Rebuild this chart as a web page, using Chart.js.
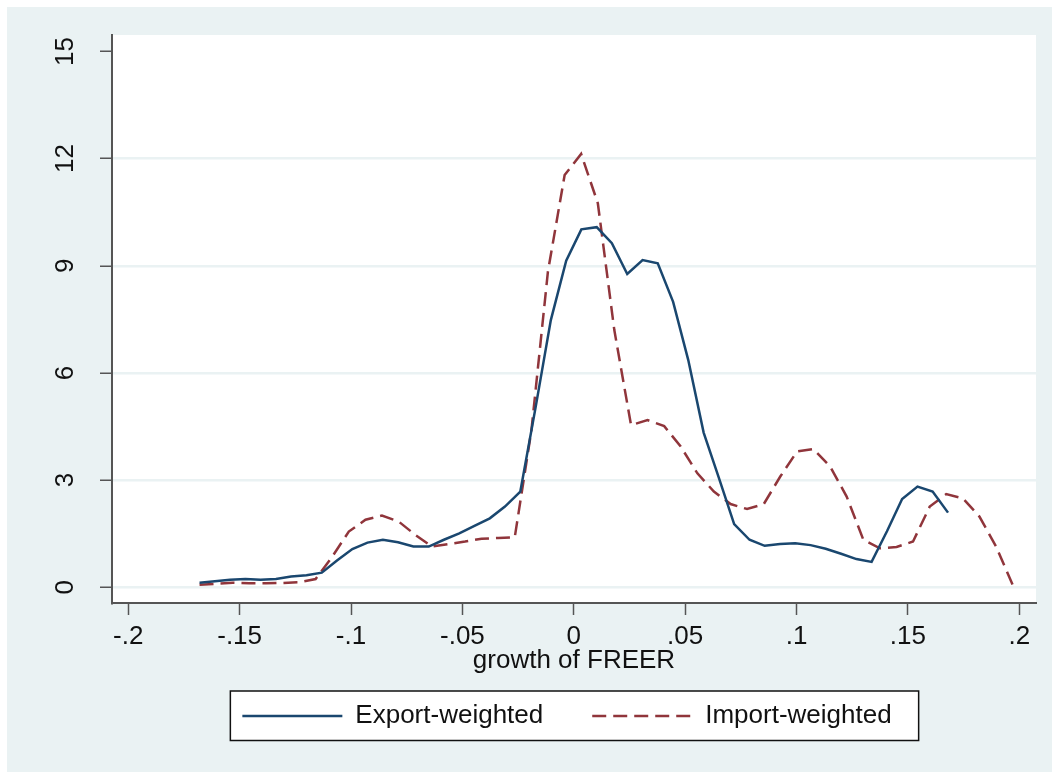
<!DOCTYPE html>
<html>
<head>
<meta charset="utf-8">
<script src="https://cdn.jsdelivr.net/npm/chart.js@4.4.1/dist/chart.umd.min.js"></script>
<style>
    html, body { margin: 0; padding: 0; background: #fff; }
    #marco { position: absolute; left: 7px; top: 7px; width: 1045px; height: 765px; background: #eaf2f3; }
</style>
</head>
<body>
<div id="marco"><canvas id="chartDensidad" width="1045" height="765"></canvas></div>
<script>
// kernel density of FREER growth
const xExport = [-0.1680, -0.1611, -0.1543, -0.1474, -0.1406, -0.1337, -0.1269, -0.1200, -0.1131, -0.1063,
    -0.0994, -0.0926, -0.0857, -0.0789, -0.0720, -0.0651, -0.0583, -0.0514, -0.0446, -0.0377,
    -0.0309, -0.0240, -0.0171, -0.0103, -0.0034, 0.0034, 0.0103, 0.0171, 0.0240, 0.0309,
    0.0377, 0.0446, 0.0514, 0.0583, 0.0651, 0.0720, 0.0789, 0.0857, 0.0926, 0.0994,
    0.1063, 0.1131, 0.1200, 0.1269, 0.1337, 0.1406, 0.1474, 0.1543, 0.1611, 0.1680]
const exportWeighted = [0.13, 0.17, 0.21, 0.23, 0.21, 0.23, 0.30, 0.34, 0.41, 0.75,
    1.07, 1.25, 1.33, 1.26, 1.14, 1.14, 1.33, 1.51, 1.72, 1.93,
    2.26, 2.68, 5.05, 7.48, 9.14, 10.02, 10.08, 9.63, 8.77, 9.16,
    9.07, 7.99, 6.36, 4.33, 3.07, 1.77, 1.33, 1.16, 1.21, 1.23,
    1.18, 1.08, 0.94, 0.79, 0.71, 1.57, 2.47, 2.82, 2.68, 2.09]

const xImport = [-0.1680, -0.1605, -0.1531, -0.1457, -0.1382, -0.1308, -0.1233, -0.1159, -0.1084, -0.1010,
    -0.0935, -0.0861, -0.0786, -0.0712, -0.0637, -0.0563, -0.0488, -0.0414, -0.0339, -0.0265,
    -0.0190, -0.0116, -0.0041, 0.0033, 0.0108, 0.0182, 0.0257, 0.0331, 0.0406, 0.0480,
    0.0555, 0.0629, 0.0704, 0.0778, 0.0853, 0.0927, 0.1002, 0.1076, 0.1151, 0.1225,
    0.1300, 0.1374, 0.1449, 0.1523, 0.1598, 0.1672, 0.1747, 0.1821, 0.1896, 0.1970]
const importWeighted = [0.07, 0.10, 0.13, 0.11, 0.11, 0.12, 0.14, 0.23, 0.86, 1.56,
    1.89, 2.01, 1.84, 1.47, 1.14, 1.21, 1.28, 1.36, 1.38, 1.40,
    4.40, 8.84, 11.54, 12.13, 10.75, 7.20, 4.54, 4.68, 4.51, 3.94,
    3.19, 2.68, 2.33, 2.19, 2.33, 3.10, 3.80, 3.87, 3.38, 2.54,
    1.33, 1.09, 1.13, 1.28, 2.26, 2.61, 2.49, 1.98, 1.14, 0.07]

const xTicks = [-0.2, -0.15, -0.1, -0.05, 0, 0.05, 0.1, 0.15, 0.2]
const xTickLabels = ['-.2', '-.15', '-.1', '-.05', '0', '.05', '.1', '.15', '.2']
const yTicks = [0, 3, 6, 9, 12, 15]

const azul = '#1a476f'
const granate = '#90353b'
const fondo = '#eaf2f3'
const ejeColor = '#555555'

const toPoints = (xs, ys) => xs.map((x, i) => ({ x: x, y: ys[i] }))

Chart.defaults.font.family = "'Liberation Sans', Arial, sans-serif"
Chart.defaults.font.size = 26
Chart.defaults.color = '#111'

// white plot region inside the blue graph region
const plotBackground = {
    id: 'plotBackground',
    beforeDraw: (chart) => {
        const { ctx, chartArea } = chart
        ctx.save()
        ctx.fillStyle = '#fff'
        ctx.fillRect(chartArea.left, chartArea.top, chartArea.right - chartArea.left, chartArea.bottom - chartArea.top)
        ctx.restore()
    }
}

// framed legend like Stata's, nudged a bit left of centre
const legendBox = {
    id: 'legendBox',
    afterLayout: (chart) => {
        chart.legend.left -= 7
        chart.legend.right -= 7
    },
    afterDraw: (chart) => {
        const boxes = chart.legend.legendHitBoxes
        if (!boxes || !boxes.length) return
        const first = boxes[0]
        const last = boxes[boxes.length - 1]
        const midY = first.top + first.height / 2
        const left = first.left - 12
        const width = last.left + last.width + 27 - left
        const ctx = chart.ctx
        ctx.save()
        ctx.globalCompositeOperation = 'destination-over'
        ctx.fillStyle = '#fff'
        ctx.fillRect(left, midY - 25, width, 49.5)
        ctx.globalCompositeOperation = 'source-over'
        ctx.strokeStyle = '#111'
        ctx.lineWidth = 1.5
        ctx.strokeRect(left, midY - 25, width, 49.5)
        ctx.restore()
    }
}

const context = document.getElementById('chartDensidad').getContext('2d')

const chartDensidad = new Chart(context, {
    type: 'line',
    data: {
        datasets: [
            {
                label: 'Export-weighted',
                data: toPoints(xExport, exportWeighted),
                borderColor: azul,
                backgroundColor: azul,
                borderWidth: 2.5,
                pointRadius: 0,
                tension: 0
            },
            {
                label: 'Import-weighted',
                data: toPoints(xImport, importWeighted),
                borderColor: granate,
                backgroundColor: granate,
                borderWidth: 2.5,
                borderDash: [14, 7],
                pointRadius: 0,
                tension: 0
            }
        ]
    },
    options: {
        responsive: false,
        animation: false,
        devicePixelRatio: 1,
        layout: { autoPadding: false, padding: { top: 28, right: 16, left: 0, bottom: 33 } },
        plugins: {
            tooltip: { enabled: false },
            legend: {
                position: 'bottom',
                fullSize: false,
                labels: {
                    usePointStyle: true,
                    pointStyle: 'line',
                    pointStyleWidth: 100,
                    padding: 49,
                    font: { size: 26 },
                    generateLabels: (chart) => {
                        const items = Chart.defaults.plugins.legend.labels.generateLabels(chart)
                        items.forEach((item, i) => {
                            const ds = chart.data.datasets[i]
                            item.lineDash = ds.borderDash || []
                            item.lineWidth = ds.borderWidth
                            item.strokeStyle = ds.borderColor
                        })
                        return items
                    }
                }
            }
        },
        scales: {
            x: {
                type: 'linear',
                min: -0.2073,
                max: 0.2075,
                afterBuildTicks: (scale) => { scale.ticks = xTicks.map(v => ({ value: v })) },
                afterFit: (scale) => {
                    scale.height = 51
                    scale.paddingLeft = 0
                    scale.paddingRight = 0
                },
                ticks: {
                    autoSkip: false,
                    maxRotation: 0,
                    padding: 6,
                    callback: (value) => xTickLabels[xTicks.findIndex(t => Math.abs(t - value) < 1e-9)]
                },
                grid: {
                    drawOnChartArea: false,
                    color: 'rgba(0,0,0,0)',
                    tickColor: ejeColor,
                    tickLength: 12,
                    tickWidth: 1.5
                },
                border: { color: ejeColor, width: 2 },
                title: {
                    display: true,
                    text: 'growth of FREER',
                    font: { size: 26 },
                    padding: { top: 0, bottom: -22 }
                }
            },
            y: {
                min: -0.44,
                max: 15.46,
                afterBuildTicks: (scale) => { scale.ticks = yTicks.map(v => ({ value: v })) },
                afterFit: (scale) => {
                    scale.width = 105
                    scale.paddingTop = 0
                    scale.paddingBottom = 0
                },
                ticks: {
                    minRotation: 90,
                    maxRotation: 90,
                    crossAlign: 'center',
                    padding: 20
                },
                grid: {
                    color: (ctx) => ctx.tick && ctx.tick.value === 15 ? 'rgba(0,0,0,0)' : fondo,
                    lineWidth: 2.5,
                    tickColor: ejeColor,
                    tickLength: 12,
                    tickWidth: 1.5
                },
                border: { color: ejeColor, width: 2 }
            }
        }
    },
    plugins: [plotBackground, legendBox]
})
</script>
</body>
</html>
